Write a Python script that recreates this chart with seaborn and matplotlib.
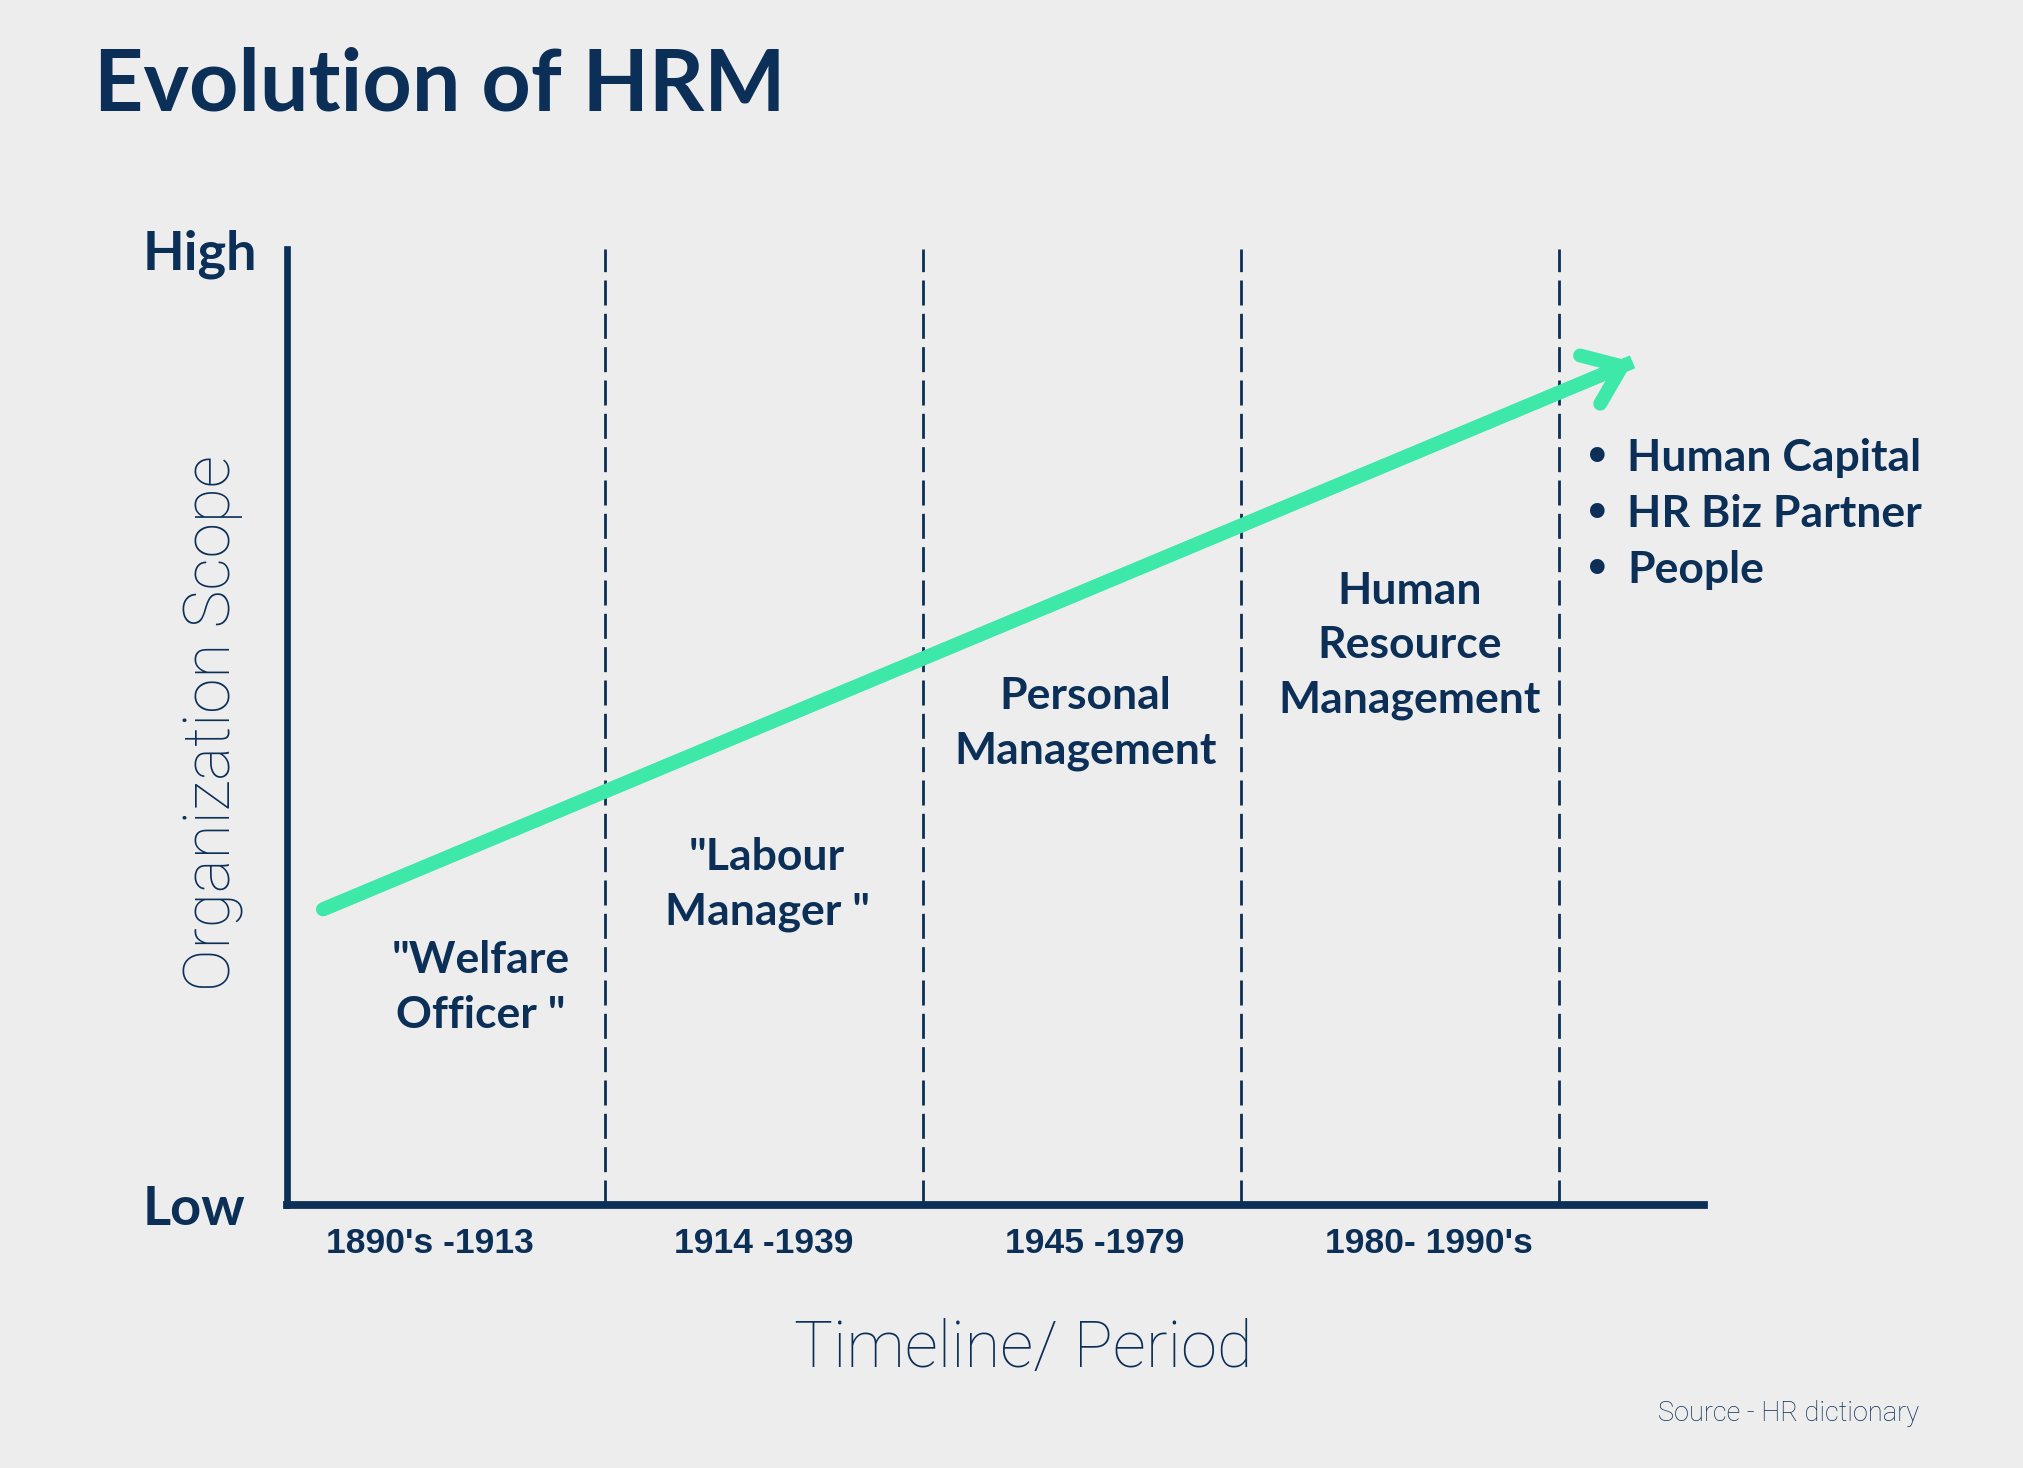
import matplotlib
matplotlib.use("Agg")
import matplotlib.pyplot as plt
import seaborn as sns
import pandas as pd

# ---- data ----
period_labels = ["1890's -1913", "1914 -1939", "1945 -1979", "1980- 1990's"]
period_tick_pos = [0.45, 1.50, 2.54, 3.59]
period_bounds = [1, 2, 3, 4]
role_labels = ['"Welfare\nOfficer "', '"Labour\nManager "', "Personal\nManagement",
               "Human\nResource\nManagement"]
role_x = [0.61, 1.51, 2.51, 3.53]
role_y = [0.227, 0.335, 0.504, 0.585]
bullet_items = ["Human Capital", "HR Biz Partner", "People"]
bullet_y = [0.781, 0.723, 0.664]
bullet_x = 4.12
trend_x = [0.114, 4.23]
trend_y = [0.309, 0.882]
scope_ticks = [0, 1]
scope_labels = ["Low", "High"]

NAVY = "#0b2f57"
GREEN = "#3de8a8"
BG = "#ededed"

sns.set_theme(style="white", rc={"figure.facecolor": BG, "axes.facecolor": BG})
plt.rcParams["font.family"] = ["Lato", "DejaVu Sans"]
LIGHT = ["Roboto", "DejaVu Sans"]

fig = plt.figure(figsize=(20.24, 14.68), dpi=100)
ax = fig.add_axes([0.1416, 0.1794, 0.7002, 0.6509])
ax.set_facecolor(BG)

# dashed period boundaries
ax.vlines(period_bounds, 0, 1, colors=NAVY, linewidth=2, linestyles=(0, (9, 3)), zorder=1)

# trend arrow
df = pd.DataFrame({"x": trend_x, "y": trend_y})
sns.lineplot(data=df, x="x", y="y", ax=ax, color=GREEN, linewidth=10, zorder=3,
             solid_capstyle="butt")
ax.annotate("", xy=(trend_x[-1], trend_y[-1]), xytext=(trend_x[-2], trend_y[-2]),
            arrowprops=dict(arrowstyle="->,head_length=0.62,head_width=0.47",
                            color=GREEN, lw=10, mutation_scale=40,
                            shrinkA=0, shrinkB=0, capstyle="round", joinstyle="round"),
            zorder=3)

# role labels
for lab, x, y in zip(role_labels, role_x, role_y):
    ax.text(x, y, lab, ha="center", va="center", fontsize=32, fontweight="bold",
            color=NAVY, linespacing=1.44)

# bullets
for item, y in zip(bullet_items, bullet_y):
    ax.text(bullet_x, y, "\u2022", ha="center", va="center", fontsize=30,
            fontweight="bold", color=NAVY, family=["DejaVu Sans"])
    ax.text(bullet_x + 0.093, y, item, ha="left", va="center", fontsize=32,
            fontweight="bold", color=NAVY, clip_on=False)

ax.set_xlim(0, 4.454)
ax.set_ylim(0, 1)

# spines
for s in ["top", "right"]:
    ax.spines[s].set_visible(False)
ax.spines["left"].set_color(NAVY)
ax.spines["left"].set_linewidth(4.8)
ax.spines["bottom"].set_color(NAVY)
ax.spines["bottom"].set_linewidth(5.6)

# ticks
ax.set_xticks(period_tick_pos)
ax.set_xticklabels(period_labels, fontsize=25.5, fontweight="bold", color=NAVY,
                   family=["Liberation Sans", "DejaVu Sans"])
ax.set_yticks(scope_ticks)
ax.set_yticklabels(scope_labels, fontsize=39, fontweight="bold", color=NAVY, ha="left")
ax.tick_params(axis="x", length=0, pad=16)
ax.tick_params(axis="y", length=0, pad=104)

# axis labels
ax.set_xlabel("Timeline/ Period", fontsize=47, fontweight="light", color=NAVY,
              va="center", family=LIGHT)
ax.xaxis.set_label_coords(0.52, -0.151)
ax.set_ylabel("Organization Scope", fontsize=46, fontweight="light", color=NAVY,
              va="center", ha="center", family=LIGHT)
ax.yaxis.set_label_coords(-0.052, 0.504)

# title and source
fig.text(0.0466, 0.925, "Evolution of HRM", fontsize=62, fontweight="bold", color=NAVY,
         va="baseline", ha="left")
fig.text(0.948, 0.037, "Source - HR dictionary", fontsize=19.5, color=NAVY,
         ha="right", va="center", fontweight="light", family=LIGHT)

fig.savefig("out.png", dpi=100, facecolor=BG)
